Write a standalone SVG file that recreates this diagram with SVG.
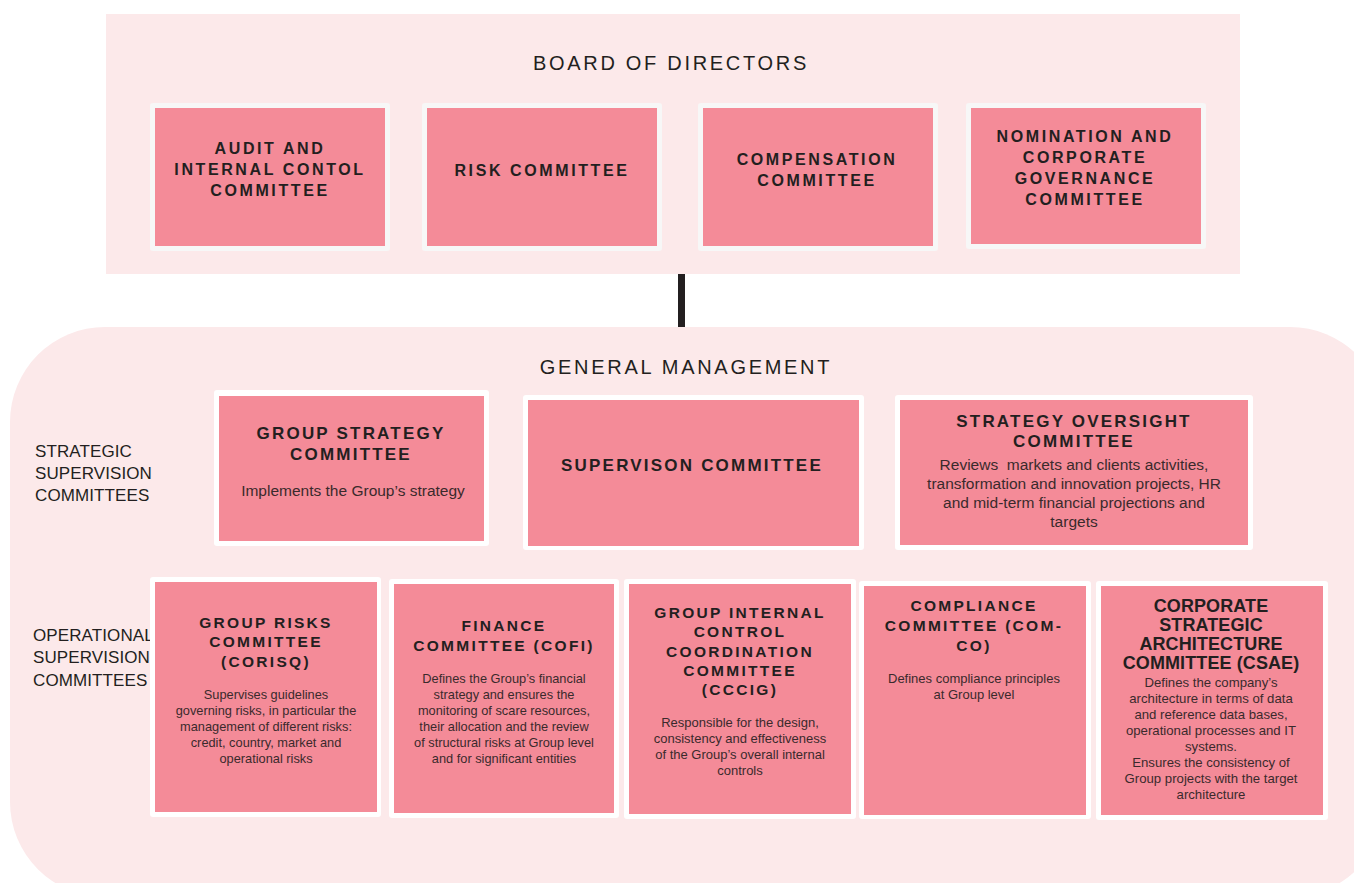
<svg xmlns="http://www.w3.org/2000/svg" width="1354" height="883" viewBox="0 0 1354 883">
<style>
.panel{fill:#fce9ea}
.ob{fill:#f7f7f7}
.ow{fill:#ffffff}
.in{fill:#f48b98}
text{font-family:"Liberation Sans",Arial,sans-serif;fill:#231f20;text-anchor:middle}
.h1{font-size:20px;letter-spacing:2.7px}
.t1{font-size:16px;font-weight:bold;letter-spacing:2.6px}
.t2{font-size:17px;font-weight:bold;letter-spacing:2.2px}
.t3{font-size:15.5px;font-weight:bold;letter-spacing:2.3px}
.t4{font-size:18px;font-weight:bold;letter-spacing:0.1px}
.d1{font-size:15.5px;fill:#3a2a2c}
.d2{font-size:12.8px;fill:#3a2a2c}
.d3{font-size:13px;fill:#3a2a2c}
.d4{font-size:13.2px;fill:#3a2a2c}
.lab{font-size:17px;letter-spacing:0.1px;text-anchor:start}
</style>
<rect width="1354" height="883" fill="#ffffff"/>
<g id="board-panel">
<rect class="panel" x="106" y="14" width="1134" height="260"/>
<text class="h1" x="671" y="70">BOARD OF DIRECTORS</text>
</g>
<g id="connectors">
<rect x="678" y="274" width="7" height="54" fill="#231f20"/>
</g>
<g id="gm-panel">
<rect class="panel" x="10" y="327" width="1375" height="570" rx="95" ry="95"/>
<text class="h1" x="686" y="374">GENERAL MANAGEMENT</text>
<text class="lab" x="35" y="457">STRATEGIC</text>
<text class="lab" x="35" y="479">SUPERVISION</text>
<text class="lab" x="35" y="501">COMMITTEES</text>
<text class="lab" x="33" y="641">OPERATIONAL</text>
<text class="lab" x="33" y="663">SUPERVISION</text>
<text class="lab" x="33" y="686">COMMITTEES</text>
</g>
<g id="audit">
<rect class="ob" x="150" y="103" width="240" height="148" rx="3"/>
<rect class="in" x="155" y="108" width="230" height="138"/>
<text class="t1" x="270" y="154">AUDIT AND</text>
<text class="t1" x="270" y="175">INTERNAL CONTOL</text>
<text class="t1" x="270" y="196">COMMITTEE</text>
</g>
<g id="risk">
<rect class="ob" x="422" y="103" width="240" height="148" rx="3"/>
<rect class="in" x="427" y="108" width="230" height="138"/>
<text class="t1" x="542" y="176">RISK COMMITTEE</text>
</g>
<g id="compensation">
<rect class="ob" x="698" y="103" width="240" height="148" rx="3"/>
<rect class="in" x="703" y="108" width="230" height="138"/>
<text class="t1" x="817" y="165">COMPENSATION</text>
<text class="t1" x="817" y="186">COMMITTEE</text>
</g>
<g id="nomination">
<rect class="ob" x="966" y="103" width="240" height="146" rx="3"/>
<rect class="in" x="971" y="108" width="230" height="136"/>
<text class="t1" x="1085" y="142">NOMINATION AND</text>
<text class="t1" x="1085" y="163">CORPORATE</text>
<text class="t1" x="1085" y="184">GOVERNANCE</text>
<text class="t1" x="1085" y="205">COMMITTEE</text>
</g>
<g id="group-strategy">
<rect class="ow" x="214" y="390" width="275" height="156" rx="3"/>
<rect class="in" x="219" y="396" width="265" height="145"/>
<text class="t2" x="351" y="439">GROUP STRATEGY</text>
<text class="t2" x="351" y="460">COMMITTEE</text>
<text class="d1" x="353" y="496">Implements the Group’s strategy</text>
</g>
<g id="supervision">
<rect class="ow" x="523" y="395" width="341" height="155" rx="3"/>
<rect class="in" x="528" y="400" width="331" height="146"/>
<text class="t2" x="692" y="471">SUPERVISON COMMITTEE</text>
</g>
<g id="strategy-oversight">
<rect class="ow" x="895" y="395" width="358" height="155" rx="3"/>
<rect class="in" x="900" y="400" width="348" height="145"/>
<text class="t2" x="1074" y="427">STRATEGY OVERSIGHT</text>
<text class="t2" x="1074" y="447">COMMITTEE</text>
<text class="d1" x="1074" y="470">Reviews&#160; markets and clients activities,</text>
<text class="d1" x="1074" y="489">transformation and innovation projects, HR</text>
<text class="d1" x="1074" y="508">and mid-term financial projections and</text>
<text class="d1" x="1074" y="527">targets</text>
</g>
<g id="group-risks">
<rect class="ow" x="150" y="577" width="231" height="240" rx="3"/>
<rect class="in" x="155" y="582" width="222" height="230"/>
<text class="t3" x="266" y="628">GROUP RISKS</text>
<text class="t3" x="266" y="647">COMMITTEE</text>
<text class="t3" x="266" y="667">(CORISQ)</text>
<text class="d2" x="266" y="699">Supervises guidelines</text>
<text class="d2" x="266" y="715">governing risks, in particular the</text>
<text class="d2" x="266" y="731">management of different risks:</text>
<text class="d2" x="266" y="747">credit, country, market and</text>
<text class="d2" x="266" y="763">operational risks</text>
</g>
<g id="finance">
<rect class="ow" x="389" y="579" width="230" height="239" rx="3"/>
<rect class="in" x="394" y="584" width="220" height="229"/>
<text class="t3" x="504" y="631">FINANCE</text>
<text class="t3" x="504" y="651">COMMITTEE (COFI)</text>
<text class="d2" x="504" y="683">Defines the Group’s financial</text>
<text class="d2" x="504" y="699">strategy and ensures the</text>
<text class="d2" x="504" y="715">monitoring of scare resources,</text>
<text class="d2" x="504" y="731">their allocation and the review</text>
<text class="d2" x="504" y="747">of structural risks at Group level</text>
<text class="d2" x="504" y="763">and for significant entities</text>
</g>
<g id="internal-control">
<rect class="ow" x="624" y="579" width="232" height="240" rx="3"/>
<rect class="in" x="629" y="584" width="222" height="230"/>
<text class="t3" x="740" y="618">GROUP INTERNAL</text>
<text class="t3" x="740" y="637">CONTROL</text>
<text class="t3" x="740" y="657">COORDINATION</text>
<text class="t3" x="740" y="676">COMMITTEE</text>
<text class="t3" x="740" y="695">(CCCIG)</text>
<text class="d3" x="740" y="727">Responsible for the design,</text>
<text class="d3" x="740" y="743">consistency and effectiveness</text>
<text class="d3" x="740" y="759">of the Group’s overall internal</text>
<text class="d3" x="740" y="775">controls</text>
</g>
<g id="compliance">
<rect class="ow" x="859" y="581" width="232" height="238" rx="3"/>
<rect class="in" x="864" y="586" width="222" height="229"/>
<text class="t3" x="974" y="611">COMPLIANCE</text>
<text class="t3" x="974" y="631">COMMITTEE (COM-</text>
<text class="t3" x="974" y="651">CO)</text>
<text class="d3" x="974" y="683">Defines compliance principles</text>
<text class="d3" x="974" y="699">at Group level</text>
</g>
<g id="csae">
<rect class="ow" x="1096" y="581" width="232" height="239" rx="3"/>
<rect class="in" x="1101" y="586" width="222" height="229"/>
<text class="t4" x="1211" y="612">CORPORATE</text>
<text class="t4" x="1211" y="631">STRATEGIC</text>
<text class="t4" x="1211" y="650">ARCHITECTURE</text>
<text class="t4" x="1211" y="669">COMMITTEE (CSAE)</text>
<text class="d4" x="1211" y="687">Defines the company’s</text>
<text class="d4" x="1211" y="703">architecture in terms of data</text>
<text class="d4" x="1211" y="719">and reference data bases,</text>
<text class="d4" x="1211" y="735">operational processes and IT</text>
<text class="d4" x="1211" y="751">systems.</text>
<text class="d4" x="1211" y="767">Ensures the consistency of</text>
<text class="d4" x="1211" y="783">Group projects with the target</text>
<text class="d4" x="1211" y="799">architecture</text>
</g>
</svg>
